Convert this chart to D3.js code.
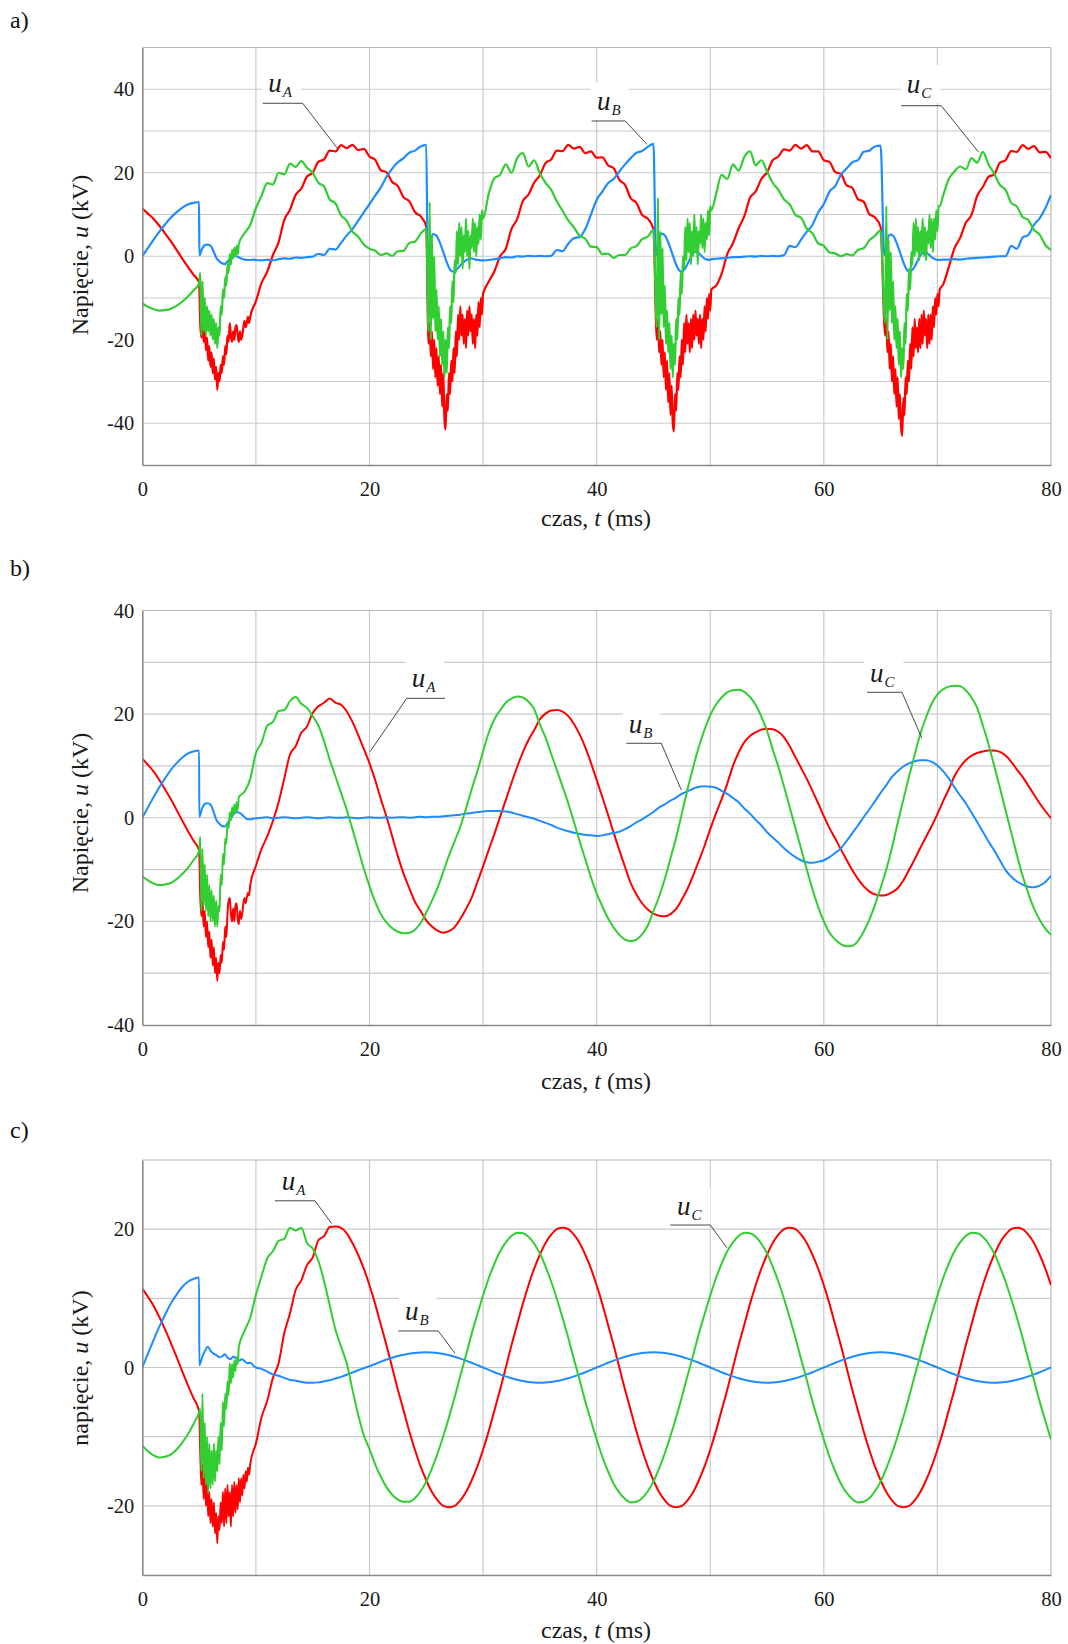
<!DOCTYPE html>
<html>
<head>
<meta charset="utf-8">
<script src="https://cdn.jsdelivr.net/npm/d3@7"></script>
<style>
  body { margin: 0; background: #fff; }
</style>
</head>
<body>
<svg id="chart" width="1068" height="1644"></svg>
<script>
// ---------------------------------------------------------------------------
// Phase voltages u_A, u_B, u_C (kV) versus time (ms) for three cases a), b), c).
// Base series are sampled every 0.5 ms from 0 to 80 ms (161 values, 10 per row);
// null marks samples that are replaced by a finer-sampled transient burst.
// ---------------------------------------------------------------------------
const _ = null;
const timeStep = 0.5;       // ms, base sampling
const burstStep = 0.1;      // ms, red/green transient bursts
const blueBurstStep = 0.25; // ms, blue transient bursts

const xTicks = [0, 20, 40, 60, 80];
const xGrid = [10, 20, 30, 40, 50, 60, 70];
const yTicksA = [40, 20, 0, -20, -40];
const yGridA = [40, 30, 20, 10, 0, -10, -30, -40];
const yTicksB = [40, 20, 0, -20, -40];
const yGridB = [30, 20, 10, 0, -10, -20, -30];
const yTicksC = [20, 0, -20];
const yGridC = [20, 10, 0, -10, -20];

// ----------------------------- panel a) ------------------------------------
const aRed = [
  11.4, 10.2, 8.9, 7.3, 5.5, 3.6, 1.6, -0.5, -2.5, -4.4,        // 0
  -6.3, _, _, _, _, _, _, _, _, _,                               // 5
  -10.8, -6.4, -3.7, 0.3, 3.4, 8.7, 11.1, 14.7, 16.2, 19.1,      // 10
  20, 22.6, 23.2, 25.3, 25.1, 26.6, 25.9, 26.7, 25.4, 25.7,      // 15
  23.9, 23.1, 20.6, 20.1, 17.8, 16.8, 14.1, 13.2, 10.6, 9.6,     // 20
  7.2, _, _, _, _, _, _, _, _, _,                                // 25
  _, -6.1, -3.6, 0, 1.8, 6.5, 8.9, 13.2, 14.8, 17.6,             // 30
  19.4, 22.3, 23.2, 25.3, 25.2, 26.7, 25.8, 26.2, 24.7, 25.1,    // 35
  23.6, 23.7, 21.8, 21.1, 18.3, 17.1, 13.9, 12.8, 9.9, 9,        // 40
  6.5, _, _, _, _, _, _, _, _, _,                                // 45
  _, -7.1, -4.2, 0.5, 3.1, 6.7, 9.6, 14, 15.5, 18.5,             // 50
  20.1, 23, 23.9, 25.6, 25.3, 26.7, 25.8, 26.6, 25.1, 25.1,      // 55
  23, 22.6, 20.2, 19.7, 17, 16.4, 13.7, 13.1, 10.1, 9.3,         // 60
  7, _, _, _, _, _, _, _, _, _,                                  // 65
  _, -6.8, -2.6, 1.9, 4.4, 8, 9.9, 14.5, 16.6, 19,               // 70
  19.6, 22.4, 23, 25.2, 25, 26.6, 25.7, 26.4, 24.9, 25,          // 75
  23.5                                                           // 80
];
const aRedB1 = [ // 5.1 – 9.5 ms
  -16, -19.5, -15.5, -20.5, -17.5, -22.5, -19.5, -25, -21.5, -26.5,
  -23, -28, -24.5, -29.5, -26.5, -32, -28, -30, -26, -28,
  -24, -26, -21.5, -23.5, -19, -20.5, -16, -19, -20.5, -18,
  -20, -17, -16.5, -19, -20.5, -18, -20, -19, -17, -15.5,
  -17, -16, -14.5, -16, -14.5
];
const aRedB2 = [ // 25.2 – 30.0 ms
  -21, -16, -24, -18, -27, -20, -29, -22, -31, -24,
  -33, -26, -36, -28, -39, -41.5, -33, -37, -28, -33,
  -25, -30, -22, -28, -18, -24, -14, -20, -12, -19,
  -14, -21, -15, -22, -13, -19, -12, -18, -14, -21,
  -15, -22, -14, -19, -11, -17, -10, -14, -9
];
const aRedB3 = [ // 45.3 – 50.1 ms
  -20, -15, -23, -18, -26, -20, -29, -23, -32, -25,
  -35, -28, -38, -31, -40, -42, -33, -37, -28, -32,
  -24, -29, -20, -26, -16, -23, -14, -21, -16, -23,
  -15, -22, -14, -20, -13, -19, -15, -21, -14, -22,
  -15, -20, -12, -18, -10, -15, -9, -13, -8
];
const aRedB4 = [ // 65.4 – 70.2 ms
  -19, -15, -23, -18, -27, -21, -30, -24, -33, -27,
  -36, -29, -39, -33, -41, -43, -34, -38, -29, -33,
  -25, -30, -21, -27, -17, -24, -15, -22, -17, -23,
  -15, -22, -14, -21, -13, -19, -15, -22, -14, -21,
  -14, -20, -12, -17, -10, -14, -9, -12, -8
];

const aGreen = [
  -11.3, -12.1, -12.7, -13, -12.9, -12.6, -11.9, -10.9, -9.7, -8.2,  // 0
  -6.5, _, _, _, _, _, _, _, 5.5, 7.5,                                // 5
  11.5, 14.5, 17.5, 17.2, 20, 19.6, 22.2, 21.4, 22.8, 21.2,           // 10
  20, 17.6, 16.7, 13.6, 12.7, 9.8, 8.5, 5.9, 4.7, 2.8,                // 15
  1.8, 1.3, 0.3, 0.7, 0.1, 1.2, 1.3, 3.2, 3.5, 5.4,                   // 20
  6.5, _, _, _, _, _, _, _, _, _,                                     // 25
  _, 15, 18.7, 19.5, 22, 20, 23.5, 24.7, 21.5, 23,                    // 30
  19.8, 17.6, 15.9, 13.1, 10.9, 8.6, 6.9, 4.9, 4.2, 2.3,              // 35
  2.2, 0.5, 0.6, -0.4, 0.3, 0.3, 1.9, 2.4, 4.1, 4.7,                  // 40
  6.3, _, _, _, _, _, _, _, _, _,                                     // 45
  _, 14.7, 19.5, 18.5, 22, 20.5, 23.8, 25.1, 21.8, 23,                // 50
  20.3, 17.6, 15.9, 13.6, 12.4, 9.9, 9.2, 6.6, 5.5, 3.1,              // 55
  2.5, 0.9, 0.7, 0, 0.5, 0.2, 1.5, 1.9, 3.8, 4.9,                     // 60
  6.2, _, _, _, _, _, _, _, _, _,                                     // 65
  _, 14.5, 18.5, 20.3, 21.5, 20.8, 23.5, 22.4, 25, 22,                // 70
  19.8, 17.1, 15.9, 12.8, 11.9, 9.4, 8.7, 6.3, 5.2, 2.7,              // 75
  1.5                                                                 // 80
];
const aGreenB1 = [ // 5.1 – 8.5 ms
  -4, -19, -6, -18, -10, -19, -12, -18, -13, -19,
  -14, -20, -15, -21, -16, -22, -17, -19, -12, -14,
  -8, -10, -5, -7, -2, -4, 0.5, -2, 1.5, -0.5,
  2, 0, 2.5, 0.5, 3
];
const aGreenB2 = [ // 25.2 – 30.0 ms
  -18, 13, -20, 5, -15, 0, -18, -8, -20, -12,
  -24, -15, -26, -18, -29, -20, -28, -17, -22, -12,
  -16, -6, -11, -1, -4, 6, -2, 8, 0, 7,
  -3, 5, 1, 9, 0, 6, -3, 5, 2, 9,
  1, 8, 0, 7, 3, 10, 4, 11, 9
];
const aGreenB3 = [ // 45.3 – 50.1 ms
  -17, 14, -20, 6, -14, 2, -17, -7, -21, -13,
  -23, -16, -27, -19, -29, -21, -26, -15, -20, -10,
  -14, -4, -9, 0, -3, 7, -1, 9, 1, 8,
  -2, 6, 0, 10, 1, 7, -2, 6, 3, 10,
  2, 9, 1, 8, 4, 11, 5, 12, 11
];
const aGreenB4 = [ // 65.4 – 70.2 ms
  -16, 12, -20, 4, -13, 1, -16, -6, -20, -12,
  -22, -15, -26, -18, -29, -22, -27, -16, -21, -9,
  -13, -3, -8, 1, -2, 8, 0, 9, 1, 7,
  -1, 6, 1, 9, 0, 7, -1, 6, 3, 10,
  2, 9, 1, 9, 4, 11, 6, 12, 12
];

const aBlue = [
  0, 2, 4, 5.9, 7.6, 9.2, 10.5, 11.6, 12.4, 12.8,                    // 0
  13, _, _, _, _, _, _, _, _, _,                                      // 5
  -0.9, -1, -0.8, -1, -0.7, -0.5, -0.6, -0.3, -0.4, -0.2,             // 10
  -0.1, 0.6, 0.3, 1.8, 1.6, 3.2, 5, 6.5, 8.5, 10.5,                   // 15
  12.5, 14.5, 16.5, 19, 21, 22.5, 23.5, 24.8, 25.3, 26.3,             // 20
  26.7, _, _, _, _, _, _, _, _, _,                                    // 25
  -1, -0.9, -0.7, -0.5, -0.2, -0.3, 0, -0.1, 0.1, 0,                  // 30
  0.1, 0, 0.1, 1.5, 1.2, 3, 4.3, 4.6, 6.5, 10,                        // 35
  13.5, 15.5, 17.5, 18.5, 20.3, 22, 23.5, 24.8, 25.2, 26.2,           // 40
  26.9, _, _, _, _, _, _, _, _, _,                                    // 45
  -0.8, -0.6, -0.5, -0.4, -0.2, -0.2, -0.1, 0, -0.1, 0.1,             // 50
  0, 0.1, 0, 0.3, 2.5, 2.2, 4, 5.9, 7.5, 10.5,                        // 55
  12.5, 15.5, 16.8, 19.5, 21, 22.5, 23, 25, 25.3, 26.3,               // 60
  26.5, _, _, _, _, _, _, _, _, _,                                    // 65
  _, -0.8, -0.8, -0.7, -0.8, -0.6, -0.5, -0.4, -0.3, -0.2,            // 70
  -0.1, 0, 0, 2.5, 1.8, 4.5, 5.1, 7.5, 9.1, 11.5,                     // 75
  14.7                                                                // 80
];
const aBlueB1 = [0.2, 1.8, 2.7, 2.8, 2.5, 1.2, -0.4, -1.2, -1.7, -1.9, -1.2, -0.4, 0.1, 0, -0.3, -0.6, -0.8, -0.9, -0.9, -0.8];
const aBlueB2 = [0.2, 3.8, 5.3, 5, 3.8, 2, 0, -1.9, -3.3, -3.7, -3.3, -2.6, -1.8, -1.2, -0.8, -0.5, -0.6, -0.8, -0.9, -1];
const aBlueB3 = [0.2, 3.6, 5.4, 5.1, 3.9, 2.1, 0.1, -1.8, -3.2, -3.7, -3.2, -2, -0.6, 0.6, 1.1, 0.8, 0.1, -0.5, -0.8, -0.9];
const aBlueB4 = [0.2, 3.7, 5.2, 5, 3.8, 2, 0, -1.9, -3.3, -3.7, -3.2, -2.1, -0.7, 0.5, 1.1, 0.8, 0.2, -0.4, -0.7, -0.9];

// ----------------------------- panel b) ------------------------------------
const bRed = [
  11.4, 10.2, 8.9, 7.3, 5.5, 3.6, 1.6, -0.5, -2.5, -4.4,              // 0
  -6.3, _, _, _, _, _, _, _, _, _,                                     // 5
  -9.3, -6, -3.6, -0.6, 3, 7.6, 12.2, 13.8, 16.4, 17.6,               // 10
  20.2, 21.5, 22.2, 23, 22.2, 21.8, 20.5, 18.5, 16, 13.3,             // 15
  10.5, 7.3, 3.6, 0.2, -3.6, -7.4, -10.8, -13.6, -16.2, -18,          // 20
  -19.8, -21, -21.8, -22.2, -21.9, -21.1, -19.5, -17.6, -15.4, -12.4, // 25
  -9.4, -6.2, -3.1, 0.2, 3.4, 6.7, 9.8, 12.6, 15, 16.9,               // 30
  19, 20.1, 20.7, 20.8, 20.5, 19.6, 18.1, 16.1, 13.6, 10.6,           // 35
  7.3, 4, 0.6, -2.9, -6.3, -9.5, -12.6, -14.8, -16.5, -17.7,          // 40
  -18.5, -18.9, -19, -18.6, -17.6, -15.8, -13.7, -11.1, -8.3, -5.4,   // 45
  -2.2, 0.8, 3.6, 6.6, 10, 12.6, 14.6, 15.8, 16.5, 17,                // 50
  17.2, 17.1, 16.6, 15.5, 13.8, 11.7, 9.6, 7.5, 5.2, 2.8,             // 55
  0.3, -2, -4, -6.1, -8.1, -10.1, -11.8, -13.2, -14.2, -14.8,         // 60
  -15, -14.9, -14.4, -13.6, -12.1, -10.1, -8, -5.8, -3.7, -1.6,       // 65
  0.7, 3.2, 5.5, 8, 9.8, 11.1, 12, 12.5, 12.8, 13,                    // 70
  13, 12.7, 12, 10.8, 9.3, 7.9, 6.2, 4.5, 2.8, 1.3,                   // 75
  -0.1                                                                // 80
];
const bRedB1 = [ // 5.1 – 9.5 ms
  -15, -19, -16, -21, -18, -23, -20, -25, -22, -27,
  -23.5, -28.5, -25, -30, -27, -31.5, -28, -30, -26.5, -28,
  -24, -25.5, -21, -23, -18.5, -16, -15.5, -18.5, -20, -17.5,
  -20, -17, -16.5, -19.5, -20.5, -18, -19.5, -18.5, -16.5, -15.5,
  -16.5, -15.5, -14.5, -15, -13
];
const bGreen = [
  -11.3, -12.1, -12.7, -13, -12.9, -12.6, -11.9, -10.9, -9.7, -8.2,   // 0
  -6.5, _, _, _, _, _, _, _, 5, 7.5,                                   // 5
  12.5, 14.5, 17.8, 18.5, 20.6, 20.8, 22.5, 23.3, 22, 21.2,           // 10
  19.6, 17.8, 14.8, 11.2, 8, 4.8, 1.5, -2.2, -6, -9.8,                // 15
  -13.2, -16.2, -18.6, -20.2, -21.3, -22, -22.3, -22.2, -21.6, -20.3, // 20
  -18.3, -16, -13.5, -10.4, -7.3, -4.5, -1.7, 1.8, 5.5, 9,            // 25
  12.8, 16.4, 19, 20.7, 22.2, 23, 23.4, 23.2, 22.4, 21,               // 30
  18, 15.5, 12.3, 9.2, 6, 2.8, -0.8, -4.5, -8, -11.5,                 // 35
  -14.6, -17.1, -19.4, -21.2, -22.6, -23.5, -23.8, -23.5, -22.5, -20.8, // 40
  -18, -15.2, -11.8, -7.8, -3.8, 0.8, 5.5, 9.8, 13.7, 17,             // 45
  19.8, 21.8, 23.2, 24.2, 24.6, 24.7, 24.3, 23.3, 21.8, 19.5,         // 50
  16.8, 13.2, 9.8, 6, 2, -2, -6, -10, -13.8, -17.2,                   // 55
  -20, -22.2, -23.5, -24.4, -24.8, -24.7, -23.8, -22, -19.7, -16.8,   // 60
  -13.5, -10, -5.8, -1, 3.5, 7.9, 12.2, 16.2, 19.4, 22,               // 65
  23.8, 24.8, 25.3, 25.5, 25.4, 24.6, 23.2, 21.2, 17.8, 14.2,         // 70
  10, 5.8, 1.4, -2.8, -7.2, -11.2, -14.6, -17.5, -19.7, -21.4,        // 75
  -22.6                                                               // 80
];
const bGreenB1 = [ // 5.1 – 8.5 ms
  -3.7, -18, -6, -17, -9, -18, -11, -19, -13, -20,
  -14, -20, -15, -21, -16, -21, -17, -18, -11, -13,
  -7, -9, -4, -5, -1, -2, 1, -0.5, 2, 0.5,
  2.5, 1, 3, 1.5, 4
];
const bBlue = [
  0, 2, 4, 5.9, 7.6, 9.2, 10.5, 11.6, 12.4, 12.8,                     // 0
  13, _, _, _, _, _, _, _, _, _,                                       // 5
  -0.1, 0, 0.1, -0.1, 0, 0.1, 0, -0.1, 0, 0.1,                        // 10
  0, -0.1, 0, 0.1, 0, 0, 0.1, 0, -0.1, 0,                             // 15
  0.1, 0, 0, 0.1, 0, 0.1, 0.1, 0, 0.1, 0.2,                           // 20
  0.1, 0.2, 0.2, 0.3, 0.4, 0.5, 0.6, 0.8, 0.9, 1.1,                   // 25
  1.2, 1.3, 1.3, 1.3, 1.2, 1, 0.7, 0.4, 0.1, -0.2,                    // 30
  -0.6, -1, -1.4, -1.9, -2.3, -2.6, -2.9, -3.1, -3.3, -3.4,           // 35
  -3.5, -3.4, -3.2, -2.9, -2.7, -2.2, -1.6, -0.9, -0.3, 0.4,          // 40
  1.1, 2, 2.6, 3.3, 3.9, 4.6, 5.1, 5.6, 6, 6.1,                       // 45
  6, 5.8, 5.2, 4.6, 3.8, 3, 1.8, 0.8, -0.4, -1.5,                     // 50
  -2.8, -3.8, -4.8, -5.9, -6.8, -7.6, -8.2, -8.6, -8.7, -8.5,         // 55
  -8.2, -7.6, -6.8, -5.9, -4.5, -3, -1.5, 0.1, 1.6, 3.2,              // 60
  4.8, 6.3, 7.9, 9, 9.9, 10.5, 10.9, 11.1, 11.1, 10.8,                // 65
  10.1, 9, 7.6, 5.9, 4.3, 2.8, 1, -0.8, -2.7, -4.6,                   // 70
  -6.3, -8.2, -10.1, -11.4, -12.3, -12.9, -13.3, -13.4, -13.1, -12.4, // 75
  -11.2                                                               // 80
];
const bBlueB1 = [0.2, 1.8, 2.7, 2.8, 2.5, 1.2, -0.4, -1.1, -1.6, -1.7, -1, -0.2, 0.6, 1.1, 1, 0.6, 0.1, -0.3, -0.3, -0.2];

// ----------------------------- panel c) ------------------------------------
const cRed = [
  11.4, 10.2, 8.9, 7.3, 5.5, 3.6, 1.6, -0.5, -2.5, -4.4,              // 0
  -6.3, _, _, _, _, _, _, _, _, _,                                     // 5
  -11, -7.2, -4.8, -1.5, 0.6, 5, 7.8, 11.2, 12.6, 14.8,               // 10
  15.9, 18.4, 19, 20.3, 20.4, 20.2, 19.4, 18, 16.3, 14.3,             // 15
  11.9, 9.2, 6.2, 3.2, 0, -3.2, -6.2, -9.2, -11.9, -14.3,             // 20
  -16.3, -18, -19.2, -20, -20.2, -20, -19.2, -18, -16.3, -14.3,       // 25
  -11.9, -9.2, -6.2, -3.2, 0, 3.2, 6.2, 9.2, 11.9, 14.3,              // 30
  16.3, 18, 19.2, 20, 20.2, 20, 19.2, 18, 16.3, 14.3,                 // 35
  11.9, 9.2, 6.2, 3.2, 0, -3.2, -6.2, -9.2, -11.9, -14.3,             // 40
  -16.3, -18, -19.2, -20, -20.2, -20, -19.2, -18, -16.3, -14.3,       // 45
  -11.9, -9.2, -6.2, -3.2, 0, 3.2, 6.2, 9.2, 11.9, 14.3,              // 50
  16.3, 18, 19.2, 20, 20.2, 20, 19.2, 18, 16.3, 14.3,                 // 55
  11.9, 9.2, 6.2, 3.2, 0, -3.2, -6.2, -9.2, -11.9, -14.3,             // 60
  -16.3, -18, -19.2, -20, -20.2, -20, -19.2, -18, -16.3, -14.3,       // 65
  -11.9, -9.2, -6.2, -3.2, 0, 3.2, 6.2, 9.2, 11.9, 14.3,              // 70
  16.3, 18, 19.2, 20, 20.2, 20, 19.2, 18, 16.3, 14.3,                 // 75
  11.9                                                                // 80
];
const cRedB1 = [ // 5.1 – 9.5 ms
  -12, -17, -14, -19, -15, -20, -16.5, -21.5, -18, -22.5,
  -19, -23, -19.5, -24, -21, -25.4, -21.5, -23.5, -19.5, -22.5,
  -18, -23, -17.5, -22.5, -17, -21.5, -18, -23, -17, -21.5,
  -16.5, -21, -17, -20.5, -16, -19.5, -16, -18.5, -15.5, -17.5,
  -15, -16.5, -14.5, -15.5, -14
];
const cGreen = [
  -11.3, -12.1, -12.7, -13, -12.9, -12.6, -11.9, -10.9, -9.7, -8.2,   // 0
  -6.5, _, _, _, _, _, _, _, 5.3, 7.2,                                 // 5
  10.5, 13.2, 15.8, 16.8, 18.3, 18.6, 20.2, 19.8, 20.2, 18,           // 10
  17.2, 15.4, 12.5, 9, 5.5, 3, 0.6, -3.2, -6.8, -9.8,                 // 15
  -11.8, -14, -15.8, -17.3, -18.4, -19.1, -19.4, -19.4, -18.9, -17.9, // 20
  -16.5, -14.6, -12.4, -9.9, -7.2, -4.3, -1.2, 1.8, 4.9, 7.7,         // 25
  10.4, 12.9, 15, 16.8, 18.1, 19, 19.5, 19.4, 18.9, 17.9,             // 30
  16.5, 14.6, 12.4, 9.9, 7.2, 4.3, 1.2, -1.8, -4.9, -7.7,             // 35
  -10.4, -12.9, -15, -16.8, -18.1, -19, -19.5, -19.4, -18.9, -17.9,   // 40
  -16.5, -14.6, -12.4, -9.9, -7.2, -4.3, -1.2, 1.8, 4.9, 7.7,         // 45
  10.4, 12.9, 15, 16.8, 18.1, 19, 19.5, 19.4, 18.9, 17.9,             // 50
  16.5, 14.6, 12.4, 9.9, 7.2, 4.3, 1.2, -1.8, -4.9, -7.7,             // 55
  -10.4, -12.9, -15, -16.8, -18.1, -19, -19.5, -19.4, -18.9, -17.9,   // 60
  -16.5, -14.6, -12.4, -9.9, -7.2, -4.3, -1.2, 1.8, 4.9, 7.7,         // 65
  10.4, 12.9, 15, 16.8, 18.1, 19, 19.5, 19.4, 18.9, 17.9,             // 70
  16.5, 14.6, 12.4, 9.9, 7.2, 4.3, 1.2, -1.8, -4.9, -7.7,             // 75
  -10.4                                                               // 80
];
const cGreenB1 = [ // 5.1 – 8.5 ms
  -6, -15, -3.8, -16, -8, -17, -10, -18.2, -11, -17.5,
  -12, -17, -11, -16.5, -12, -15, -10, -14, -8, -12,
  -5, -8.5, -3.8, -6, -2, -4, 0.6, -2.3, 0.5, -1.5,
  1, -0.5, 1.5, 0.5, 3
];
const cBlue = [
  0, 2, 4, 5.9, 7.6, 9.2, 10.5, 11.6, 12.4, 12.8,                     // 0
  13, _, _, _, _, _, _, _, _, _,                                       // 5
  0, -0.2, -0.6, -1, -1.2, -1.5, -1.8, -1.9, -2.1, -2.2,              // 10
  -2.2, -2.15, -2, -1.85, -1.6, -1.35, -1.05, -0.72, -0.4, -0.1,      // 15
  0.2, 0.5, 0.85, 1.15, 1.42, 1.65, 1.85, 2, 2.1, 2.17,               // 20
  2.2, 2.17, 2.09, 1.96, 1.78, 1.56, 1.29, 1, 0.68, 0.34,             // 25
  0, -0.34, -0.68, -1, -1.29, -1.56, -1.78, -1.96, -2.09, -2.17,      // 30
  -2.2, -2.17, -2.09, -1.96, -1.78, -1.56, -1.29, -1, -0.68, -0.34,   // 35
  0, 0.34, 0.68, 1, 1.29, 1.56, 1.78, 1.96, 2.09, 2.17,               // 40
  2.2, 2.17, 2.09, 1.96, 1.78, 1.56, 1.29, 1, 0.68, 0.34,             // 45
  0, -0.34, -0.68, -1, -1.29, -1.56, -1.78, -1.96, -2.09, -2.17,      // 50
  -2.2, -2.17, -2.09, -1.96, -1.78, -1.56, -1.29, -1, -0.68, -0.34,   // 55
  0, 0.34, 0.68, 1, 1.29, 1.56, 1.78, 1.96, 2.09, 2.17,               // 60
  2.2, 2.17, 2.09, 1.96, 1.78, 1.56, 1.29, 1, 0.68, 0.34,             // 65
  0, -0.34, -0.68, -1, -1.29, -1.56, -1.78, -1.96, -2.09, -2.17,      // 70
  -2.2, -2.17, -2.09, -1.96, -1.78, -1.56, -1.29, -1, -0.68, -0.34,   // 75
  0                                                                   // 80
];
const cBlueB1 = [0.3, 1.5, 2.4, 3, 2.4, 2, 1.8, 1.5, 1.6, 1.9, 1.4, 1.2, 1.6, 1.3, 1, 1.2, 0.9, 0.6, 0.7, 0.3];

// Start times (ms) of the finer-sampled bursts
const aRedBurstStart = [5.1, 25.2, 45.3, 65.4];
const aGreenBurstStart = [5.1, 25.2, 45.3, 65.4];
const aBlueBurstStart = [5.02, 25.12, 45.22, 65.32];
const bcRedGreenBurstStart = 5.1;
const bcBlueBurstStart = 5.02;

// ---------------------------------------------------------------------------
const FONT = "'Liberation Serif', 'Times New Roman', serif";
const COLOR = { A: '#ff0000', B: '#1e8cff', C: '#32cd32' };
const PLOT_LEFT = 142.3, PLOT_RIGHT = 1051;

function samples(name, base, bursts, step) {
  if (base.length !== 161) console.error(name + ': expected 161 samples, got ' + base.length);
  const pts = [];
  base.forEach((v, i) => { if (v !== null) pts.push([i * timeStep, v]); });
  bursts.forEach(([t0, vals]) => vals.forEach((v, j) => pts.push([+(t0 + j * step).toFixed(3), v])));
  return pts.sort((p, q) => p[0] - q[0]);
}

const panels = [
  {
    label: 'a)', labelY: 28, top: 47.5, bottom: 465, yDomain: [-50, 50],
    yTicks: yTicksA, yGrid: yGridA, yWord: 'Napięcie', yTitleY: 255, xTitleY: 526, lw: 2.2,
    series: [
      ['A', samples('aRed', aRed, aRedBurstStart.map((t, i) => [t, [aRedB1, aRedB2, aRedB3, aRedB4][i]]), burstStep)],
      ['B', samples('aBlue', aBlue, aBlueBurstStart.map((t, i) => [t, [aBlueB1, aBlueB2, aBlueB3, aBlueB4][i]]), blueBurstStep)],
      ['C', samples('aGreen', aGreen, aGreenBurstStart.map((t, i) => [t, [aGreenB1, aGreenB2, aGreenB3, aGreenB4][i]]), burstStep)]
    ],
    notes: [
      { sub: 'A', at: [11.09, 39.35], path: [[10.6, 36.64], [14.12, 36.64], [17.17, 25.86]] },
      { sub: 'B', at: [40.03, 35.0], path: [[39.56, 32.4], [42.52, 32.4], [44.43, 26.8]] },
      { sub: 'C', at: [67.3, 39.1], path: [[66.8, 36.06], [70.34, 36.06], [73.63, 24.9]] }
    ]
  },
  {
    label: 'b)', labelY: 576, top: 610.5, bottom: 1025, yDomain: [-40, 40],
    yTicks: yTicksB, yGrid: yGridB, yWord: 'Napięcie', yTitleY: 813, xTitleY: 1089, lw: 2,
    series: [
      ['A', samples('bRed', bRed, [[bcRedGreenBurstStart, bRedB1]], burstStep)],
      ['B', samples('bBlue', bBlue, [[bcBlueBurstStart, bBlueB1]], blueBurstStep)],
      ['C', samples('bGreen', bGreen, [[bcRedGreenBurstStart, bGreenB1]], burstStep)]
    ],
    notes: [
      { sub: 'A', at: [23.72, 25.24], path: [[20.05, 12.75], [23.28, 23.05], [26.65, 23.05]] },
      { sub: 'B', at: [42.82, 16.36], path: [[42.61, 14.37], [45.69, 14.37], [47.45, 5.36]] },
      { sub: 'C', at: [64.06, 26.2], path: [[63.8, 24.21], [66.88, 24.21], [68.64, 15.33]] }
    ]
  },
  {
    label: 'c)', labelY: 1138, top: 1160, bottom: 1575, yDomain: [-30, 30],
    yTicks: yTicksC, yGrid: yGridC, yWord: 'napięcie', yTitleY: 1368, xTitleY: 1638, lw: 2,
    series: [
      ['A', samples('cRed', cRed, [[bcRedGreenBurstStart, cRedB1]], burstStep)],
      ['B', samples('cBlue', cBlue, [[bcBlueBurstStart, cBlueB1]], blueBurstStep)],
      ['C', samples('cGreen', cGreen, [[bcRedGreenBurstStart, cGreenB1]], burstStep)]
    ],
    notes: [
      { sub: 'A', at: [12.27, 25.66], path: [[11.68, 24.1], [15.2, 24.1], [16.67, 20.83]] },
      { sub: 'B', at: [23.13, 6.87], path: [[22.54, 5.28], [26.06, 5.28], [27.53, 2.05]] },
      { sub: 'C', at: [47.07, 22.05], path: [[46.48, 20.6], [50.0, 20.6], [51.47, 17.3]] }
    ]
  }
];

const svg = d3.select('#chart');
svg.append('rect').attr('width', 1068).attr('height', 1644).attr('fill', '#fff');

const x = d3.scaleLinear().domain([0, 80]).range([PLOT_LEFT, PLOT_RIGHT]);

panels.forEach((p, pi) => {
  const y = d3.scaleLinear().domain(p.yDomain).range([p.bottom, p.top]);
  const g = svg.append('g');

  // panel letter
  svg.append('text').attr('x', 10).attr('y', p.labelY)
    .attr('font-family', FONT).attr('font-size', 24).attr('fill', '#111').text(p.label);

  // grid
  const grid = g.append('g').attr('stroke', '#cacaca').attr('stroke-width', 1.2);
  p.yGrid.forEach(v => grid.append('line')
    .attr('x1', PLOT_LEFT).attr('x2', PLOT_RIGHT).attr('y1', y(v)).attr('y2', y(v)));
  xGrid.forEach(t => grid.append('line')
    .attr('x1', x(t)).attr('x2', x(t)).attr('y1', p.top).attr('y2', p.bottom));
  // top and right frame
  grid.append('line').attr('x1', PLOT_LEFT).attr('x2', PLOT_RIGHT).attr('y1', p.top).attr('y2', p.top)
    .attr('stroke', '#b8b8b8');
  grid.append('line').attr('x1', PLOT_RIGHT).attr('x2', PLOT_RIGHT).attr('y1', p.top).attr('y2', p.bottom)
    .attr('stroke', '#b8b8b8');

  const boxLayer = g.append('g');

  // curves
  const clipId = 'clip' + pi;
  svg.append('clipPath').attr('id', clipId).append('rect')
    .attr('x', PLOT_LEFT).attr('y', p.top).attr('width', PLOT_RIGHT - PLOT_LEFT).attr('height', p.bottom - p.top);
  const line = d3.line().x(d => x(d[0])).y(d => y(d[1])).curve(d3.curveMonotoneX);
  const curves = g.append('g').attr('clip-path', `url(#${clipId})`);
  p.series.forEach(([phase, pts]) => {
    curves.append('path').datum(pts).attr('d', line)
      .attr('fill', 'none').attr('stroke', COLOR[phase])
      .attr('stroke-width', p.lw).attr('stroke-linejoin', 'round');
  });

  // axes
  const ax = g.append('g').attr('transform', `translate(0,${p.bottom})`)
    .call(d3.axisBottom(x).tickValues(xTicks).tickSize(0).tickSizeOuter(0).tickPadding(16).tickFormat(d => String(d)));
  const ay = g.append('g').attr('transform', `translate(${PLOT_LEFT},0)`)
    .call(d3.axisLeft(y).tickValues(p.yTicks).tickSize(0).tickSizeOuter(0).tickPadding(8).tickFormat(d => String(d)));
  [ax, ay].forEach(a => {
    a.attr('font-family', FONT).attr('font-size', 20.5);
    a.select('.domain').attr('stroke', '#8a8a8a').attr('stroke-width', 1.6);
    a.selectAll('text').attr('fill', '#1a1a1a');
  });

  // axis titles
  const xt = svg.append('text').attr('x', 596).attr('y', p.xTitleY).attr('text-anchor', 'middle')
    .attr('font-family', FONT).attr('font-size', 24).attr('fill', '#1a1a1a');
  xt.append('tspan').text('czas, ');
  xt.append('tspan').attr('font-style', 'italic').text('t');
  xt.append('tspan').text(' (ms)');

  const yt = svg.append('text').attr('transform', `translate(88,${p.yTitleY}) rotate(-90)`)
    .attr('text-anchor', 'middle').attr('font-family', FONT).attr('font-size', 24).attr('fill', '#1a1a1a');
  yt.append('tspan').text(p.yWord + ', ');
  yt.append('tspan').attr('font-style', 'italic').text('u');
  yt.append('tspan').text(' (kV)');

  // phase labels with leader lines
  const noteLayer = g.append('g');
  p.notes.forEach(n => {
    noteLayer.append('path')
      .attr('d', d3.line().x(d => x(d[0])).y(d => y(d[1]))(n.path))
      .attr('fill', 'none').attr('stroke', '#333').attr('stroke-width', 0.9);
    const t = noteLayer.append('text').attr('x', x(n.at[0])).attr('y', y(n.at[1]))
      .attr('font-family', FONT).attr('font-style', 'italic').attr('fill', '#1a1a1a');
    t.append('tspan').attr('font-size', 27).text('u');
    t.append('tspan').attr('font-size', 15).attr('dy', 5).attr('dx', 1).text(n.sub);
    const bb = t.node().getBBox();
    boxLayer.append('rect')
      .attr('x', bb.x - 6).attr('y', bb.y - 4).attr('width', bb.width + 14).attr('height', bb.height + 6)
      .attr('fill', '#fff');
  });
});
</script>
</body>
</html>
